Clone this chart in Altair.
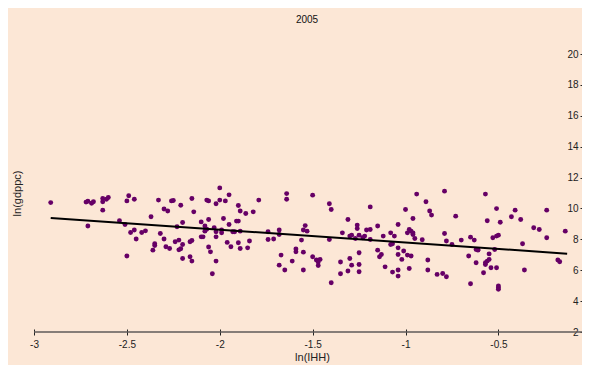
import altair as alt
import pandas as pd

# ln(IHH) values of each country (x) and ln(gdppc) (y)
ihh = [-2.91, -2.72, -2.71, -2.69, -2.68, -2.63, -2.63, -2.61, -2.60, -2.63,
       -2.71, -2.54, -2.51, -2.50, -2.49, -2.50, -2.46, -2.48, -2.46, -2.45,
       -2.42, -2.40, -2.37, -2.35, -2.35, -2.36, -2.33, -2.30, -2.28, -2.32,
       -2.30, -2.29, -2.27, -2.26, -2.25, -2.21, -2.23, -2.20, -2.24, -2.22,
       -2.20, -2.21, -2.22, -2.20, -2.16, -2.15, -2.16, -2.15, -2.15, -2.14,
       -2.10, -2.08, -2.08, -2.07, -2.10, -2.09, -2.07, -2.06, -2.06, -2.06,
       -2.05, -2.04, -2.02, -2.03, -2.02, -2.02, -2.00, -2.00, -1.97, -2.02,
       -1.98, -1.99, -1.99, -1.96, -1.95, -1.95,
       -1.94, -1.90, -1.89, -1.90, -1.91, -1.92, -1.93, -1.89, -1.90, -1.89,
       -1.85, -1.84, -1.86, -1.82, -1.79, -1.74, -1.74, -1.71, -1.68, -1.68,
       -1.67, -1.68, -1.65, -1.64, -1.64, -1.61, -1.59, -1.59, -1.55, -1.54,
       -1.53, -1.56, -1.55, -1.55, -1.50, -1.50, -1.48, -1.47, -1.46, -1.47,
       -1.41, -1.40, -1.41, -1.40, -1.35, -1.35, -1.34, -1.31, -1.30, -1.31,
       -1.29, -1.30, -1.29, -1.27, -1.26, -1.26, -1.25, -1.25, -1.25, -1.25,
       -1.21, -1.22, -1.23, -1.19, -1.19, -1.19, -1.15, -1.15, -1.14, -1.13,
       -1.12, -1.11, -1.08, -1.08, -1.07, -1.06, -1.07, -1.04, -1.04, -1.04,
       -1.04, -1.04,
       -0.94, -0.89, -0.87, -0.86, -1.00, -0.96, -0.98, -0.97, -0.96, -0.96,
       -0.95, -0.99, -0.91, -1.01, -1.02, -0.99, -0.97, -0.98, -0.88, -0.88,
       -0.83, -0.80, -0.78, -0.79, -0.79, -0.78, -0.75, -0.73, -0.70, -0.66,
       -0.65, -0.63, -0.65, -0.62, -0.61, -0.61, -0.62, -0.58, -0.57, -0.57,
       -0.56, -0.55, -0.57, -0.56, -0.55, -0.52, -0.54, -0.51, -0.53, -0.51,
       -0.50, -0.51, -0.49, -0.50, -0.50, -0.50, -0.43, -0.41, -0.38, -0.37,
       -0.36, -0.31, -0.28, -0.24, -0.24, -0.18, -0.17, -0.14]

gdppc = [10.38, 10.41, 10.47, 10.34, 10.43, 10.64, 10.43, 10.60, 10.71, 9.89,
         8.86, 9.20, 8.96, 6.92, 10.82, 10.49, 10.60, 8.44, 8.60, 8.02,
         8.44, 8.55, 9.46, 7.71, 7.60, 7.30, 10.54, 9.96, 9.83, 8.38,
         8.02, 7.52, 7.41, 10.49, 10.51, 10.21, 8.81, 9.09, 7.84, 7.95,
         7.67, 7.39, 7.32, 6.76, 7.84, 7.92, 6.87, 6.59, 10.64, 9.78,
         9.13, 8.86, 8.53, 8.66, 8.16, 8.16, 10.54, 10.49, 9.28, 7.50,
         7.19, 5.77, 6.59, 8.75, 8.49, 8.16, 11.33, 10.54, 10.49, 10.30,
         9.35, 8.60, 8.42, 7.80, 10.88, 8.96,
         7.52, 10.19, 9.83, 9.18, 9.18, 8.49, 8.49, 8.53, 7.78, 7.41,
         7.45, 7.89, 9.67, 9.78, 10.54, 8.49, 7.99, 8.02, 8.60, 8.31,
         6.98, 6.33, 6.01, 10.96, 10.60, 6.59, 7.37, 7.19, 8.60, 8.89,
         8.53, 7.95, 7.17, 6.01, 10.86, 6.87, 6.66, 6.31, 6.70, 6.53,
         10.30, 9.93, 7.99, 5.19, 6.53, 5.77, 8.42, 9.28, 6.76, 5.95,
         6.33, 8.21, 8.27, 8.05, 8.92, 8.70, 8.27, 7.13, 6.37, 5.90,
         8.60, 8.21, 8.10, 7.99, 10.10, 8.64, 8.86, 7.30, 6.87, 7.02,
         8.21, 6.22, 8.42, 7.67, 7.71, 8.21, 5.88, 8.96, 7.45, 7.02,
         6.01, 5.62,
         10.93, 10.43, 9.83, 9.57, 9.93, 9.35, 8.64, 8.53, 8.42, 8.31,
         8.05, 8.42, 7.97, 7.24, 6.70, 6.98, 6.92, 6.11, 6.66, 6.01,
         5.73, 5.79, 5.58, 11.12, 8.38, 7.89, 7.67, 9.50, 7.95, 6.92,
         8.14, 7.95, 5.12, 7.34, 7.34, 7.30, 6.48, 5.84, 6.37, 6.48,
         6.59, 6.70, 10.93, 9.20, 7.06, 7.34, 6.16, 6.16, 8.10, 8.21,
         8.27, 9.99, 9.11, 4.98, 4.87, 4.76, 9.46, 9.89, 9.28, 7.71,
         6.01, 8.75, 8.64, 9.89, 8.10, 6.66, 6.55, 8.53]

# fitted line end points
fit_x = [-2.91, -0.13]
fit_y = [9.38, 7.07]

x_ticks = [-3, -2.5, -2, -1.5, -1, -0.5]
y_ticks = [2, 4, 6, 8, 10, 12, 14, 16, 18, 20]
x_base = [2]

# plot area: the window cuts the chart just before x = 0
W, H = 548, 278
X_MAX = -0.05
AXIS_AT = 550          # where the y axis ticks sit inside the plot
FONT = "Liberation Sans"

pts = pd.DataFrame({"ihh": ihh, "gdppc": gdppc})
fit = pd.DataFrame({"ihh": fit_x, "gdppc": fit_y})
base = pd.DataFrame({"gdppc": x_base})

xs = alt.Scale(domain=[-3, X_MAX], nice=False, zero=False)
ys = alt.Scale(domain=[2, 20], nice=False, zero=False)

x_axis = alt.Axis(
    title="ln(IHH)", values=x_ticks, labelExpr="'' + datum.value",
    grid=False, domain=False, offset=-3, tickSize=6, tickColor="#222",
    tickWidth=1, labelPadding=4, labelFont=FONT, labelFontSize=10,
    labelColor="#222", labelFlush=False, labelOverlap=False,
    titleFont=FONT, titleFontSize=11, titleFontWeight="normal",
    titleColor="#222", titleX=278, titleY=22, titleBaseline="top",
)
y_axis = alt.Axis(
    title="ln(gdppc)", orient="left", offset=-AXIS_AT, values=y_ticks,
    labelExpr="'' + datum.value", grid=False, domain=False, tickSize=4,
    tickColor="#222", tickWidth=1, labelPadding=2, labelFont=FONT,
    labelFontSize=10, labelColor="#222", labelFlush=False, labelOverlap=False,
    titleFont=FONT, titleFontSize=11,
    titleFontWeight="normal", titleColor="#222", titleX=-(AXIS_AT + 17),
    titleY=H / 2, titleAngle=270, titleAlign="center", titleBaseline="middle",
)

rule = alt.Chart(base).mark_rule(color="#5f5a58", strokeWidth=1.5).encode(
    y=alt.Y("gdppc:Q", scale=ys, axis=y_axis)
)
points = alt.Chart(pts).mark_circle(size=24, color="#660066", opacity=1).encode(
    x=alt.X("ihh:Q", scale=xs, axis=x_axis),
    y=alt.Y("gdppc:Q", scale=ys, axis=y_axis),
)
line = alt.Chart(fit).mark_line(color="black", strokeWidth=2).encode(
    x=alt.X("ihh:Q", scale=xs, axis=x_axis),
    y=alt.Y("gdppc:Q", scale=ys, axis=y_axis),
)

chart = alt.layer(rule, points, line).properties(
    width=W, height=H,
    background="#FCE7D6",
    padding={"left": 26, "top": 46, "right": 0, "bottom": 33},
    autosize=alt.AutoSizeParams(type="none"),
    title=alt.TitleParams(text="2005", anchor="middle", offset=24, dx=-1,
                          fontSize=10, fontWeight="normal", font=FONT,
                          color="#111"),
).configure_view(stroke="transparent")

chart.save("out.html", embed_options={"renderer": "svg", "actions": False})
